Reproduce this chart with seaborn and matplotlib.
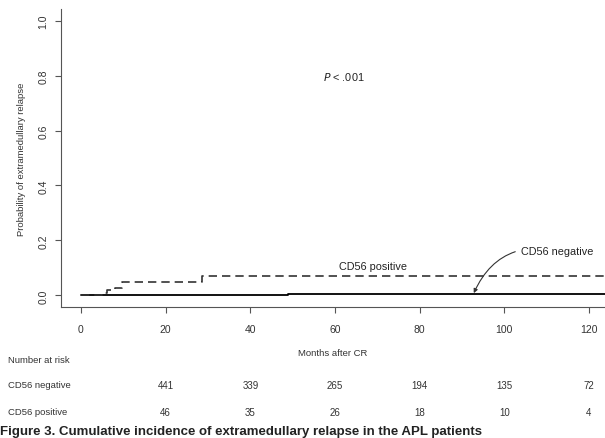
import numpy as np
import pandas as pd
import matplotlib
matplotlib.use("Agg")
import matplotlib.pyplot as plt
import seaborn as sns

# cumulative incidence steps
neg_months = [0, 34, 49, 125]
neg_cuminc = [0, 0.003, 0.006, 0.006]
pos_months = [0, 4.9, 6.2, 8.0, 9.8, 28.7, 125]
pos_cuminc = [0, 0.008, 0.018, 0.028, 0.048, 0.069, 0.069]

# number at risk table
risk_months = [20, 40, 60, 80, 100, 120]
risk_negative = [441, 339, 265, 194, 135, 72]
risk_positive = [46, 35, 26, 18, 10, 4]

x_ticks = [0, 20, 40, 60, 80, 100, 120]
y_ticks = [0.0, 0.2, 0.4, 0.6, 0.8, 1.0]

sns.set_style("ticks")
plt.rcParams["font.family"] = ["Liberation Sans", "DejaVu Sans"]

neg = pd.DataFrame({"month": neg_months, "p": neg_cuminc})
pos = pd.DataFrame({"month": pos_months, "p": pos_cuminc})

fig = plt.figure(figsize=(6.05, 4.39), dpi=100)
ax = fig.add_axes([61/605, 1-308/439, 1-61/605, 298/439])

sns.lineplot(data=neg, x="month", y="p", ax=ax, color="black", lw=1.3,
             drawstyle="steps-post", estimator=None)
sns.lineplot(data=pos, x="month", y="p", ax=ax, color="#333333", lw=1.2,
             drawstyle="steps-post", estimator=None, linestyle=(0, (5, 3)))

ax.set_xlim(-4.72, 123.8)
ax.set_ylim(-0.0425, 1.0425)
ax.set_xticks(x_ticks)
ax.set_yticks(y_ticks)
ax.set_xticklabels([str(t) for t in x_ticks], fontsize=7.5, color="#333333")
ax.set_yticklabels(["%.1f" % t for t in y_ticks], fontsize=7.5, color="#333333",
                   rotation=90, va="center")
ax.tick_params(axis="both", length=4, width=0.8, color="#555555", pad=8)
ax.tick_params(axis="y", pad=5)
for s in ["top", "right"]:
    ax.spines[s].set_visible(False)
for s in ["left", "bottom"]:
    ax.spines[s].set_color("#555555")
    ax.spines[s].set_linewidth(0.8)

ax.set_xlabel("Months after CR", fontsize=6.8, color="#333333", labelpad=10)
ax.set_ylabel("Probability of extramedullary relapse", fontsize=6.8,
              color="#333333", labelpad=9)

ax.text(62, 0.80, "$P$ < .001", fontsize=7.8, ha="center", va="center",
        color="#222222")
ax.text(69, 0.105, "CD56 positive", fontsize=7.8, ha="center", va="center",
        color="#222222")
ax.annotate("CD56 negative", xy=(92.8, 0.008), xytext=(104, 0.163),
            fontsize=7.8, ha="left", va="center", color="#222222",
            arrowprops=dict(arrowstyle="-|>", color="#333333", lw=0.8,
                            mutation_scale=6, shrinkA=2, shrinkB=0,
                            connectionstyle="arc3,rad=0.4"))

# number at risk rows in figure pixels
def xpix(m):
    return (81 + m * 4.233) / 605

fig.text(8/605, 1-361/439, "Number at risk", fontsize=6.8, va="center",
         color="#333333")
fig.text(8/605, 1-386/439, "CD56 negative", fontsize=6.8, va="center",
         color="#333333")
fig.text(8/605, 1-413/439, "CD56 positive", fontsize=6.8, va="center",
         color="#333333")
for m, a, b in zip(risk_months, risk_negative, risk_positive):
    fig.text(xpix(m), 1-386/439, str(a), fontsize=7, ha="center",
             va="center", color="#333333")
    fig.text(xpix(m), 1-413/439, str(b), fontsize=7, ha="center",
             va="center", color="#333333")

fig.text(0.0, 1/439, "Figure 3. Cumulative incidence of extramedullary relapse in the APL patients",
         fontsize=9.5, fontweight="bold", va="bottom", ha="left",
         color="#222222")

fig.savefig("out.png", dpi=100)
